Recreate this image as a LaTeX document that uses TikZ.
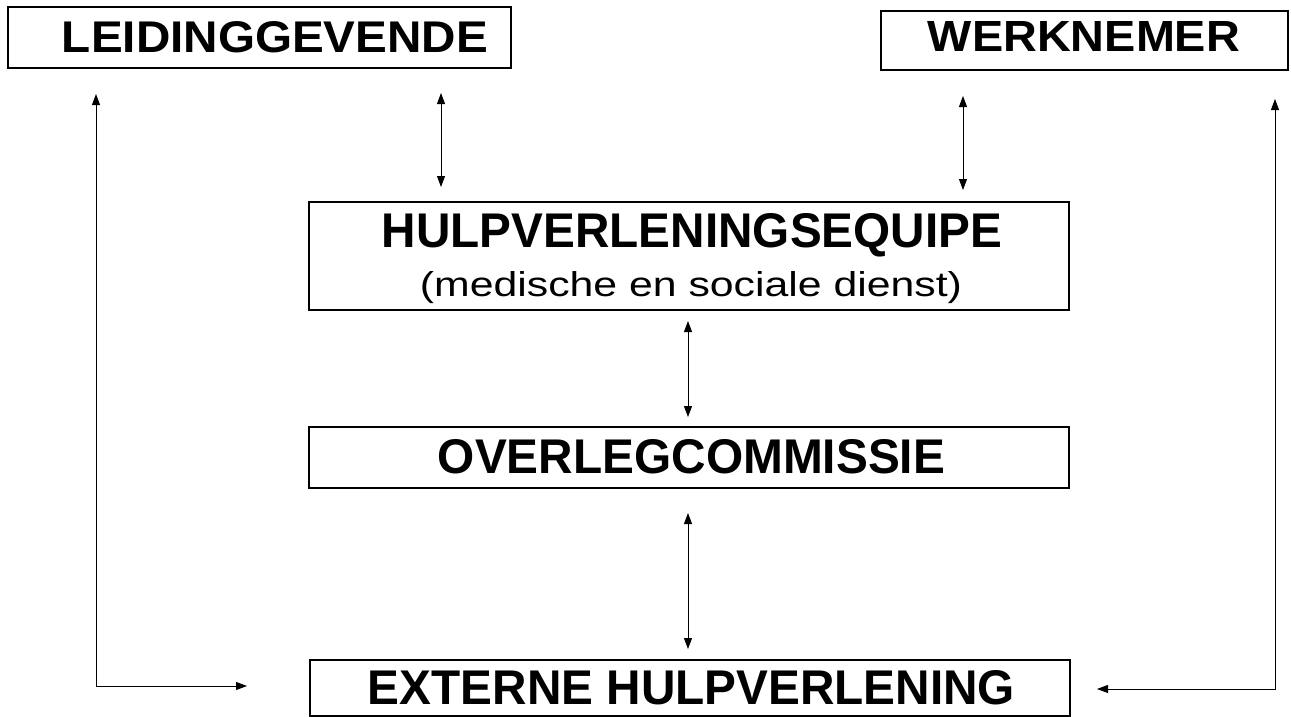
\documentclass[tikz,border=0pt]{standalone}
\usepackage{fontspec}
\setmainfont{Liberation Sans}
\usepackage{graphicx}
\usetikzlibrary{arrows.meta}
\begin{document}
\begin{tikzpicture}[x=1pt,y=-1pt,
  box/.style={draw, line width=1.1pt, rectangle, inner sep=0pt},
  lbl/.style={inner sep=0pt, anchor=base},
  link/.style={line width=0.8pt, {Triangle[length=11pt,width=8pt]}-{Triangle[length=11pt,width=8pt]}}]
\useasboundingbox (0,0) rectangle (1291,717);
% boxes
\node[box, minimum width=503pt, minimum height=61pt] (lead) at (259.5,37.5) {};
\node[box, minimum width=407pt, minimum height=59pt] (werk) at (1084.5,40.5) {};
\node[box, minimum width=760pt, minimum height=108pt] (hulp) at (689,256) {};
\node[box, minimum width=760pt, minimum height=61pt] (over) at (689,457.5) {};
\node[box, minimum width=760pt, minimum height=56pt] (ext) at (690,688) {};
% texts
\node[lbl] (leadt) at (275,53) {\resizebox{426pt}{31pt}{\bfseries LEIDINGGEVENDE}};
\node[lbl] (werkt) at (1084,52) {\resizebox{312pt}{30pt}{\bfseries WERKNEMER}};
\node[lbl] (hulpt) at (692,247) {\resizebox{620pt}{34pt}{\bfseries HULPVERLENINGSEQUIPE}};
\node[lbl] (hulps) at (691,296) {\resizebox{542pt}{25pt}{(medische en sociale dienst)}};
\node[lbl] (overt) at (691.5,473) {\resizebox{507pt}{34pt}{\bfseries OVERLEGCOMMISSIE}};
\node[lbl] (extt) at (691.5,704) {\resizebox{647pt}{34pt}{\bfseries EXTERNE HULPVERLENING}};
% connector ends
\coordinate (lh1) at (441,93);
\coordinate (lh2) at (441,187);
\coordinate (wh1) at (963,96);
\coordinate (wh2) at (963,190);
\coordinate (ho1) at (688,321);
\coordinate (ho2) at (688,417);
\coordinate (oe1) at (688,513);
\coordinate (oe2) at (688,649);
\coordinate (le1) at (96,94);
\coordinate (le2) at (247,686);
\coordinate (we1) at (1275,99);
\coordinate (we2) at (1097,689);
% connectors
\draw[link] (lh1) -- (lh2);
\draw[link] (wh1) -- (wh2);
\draw[link] (ho1) -- (ho2);
\draw[link] (oe1) -- (oe2);
\draw[link] (le1) |- (le2);
\draw[link] (we1) |- (we2);
\end{tikzpicture}
\end{document}
